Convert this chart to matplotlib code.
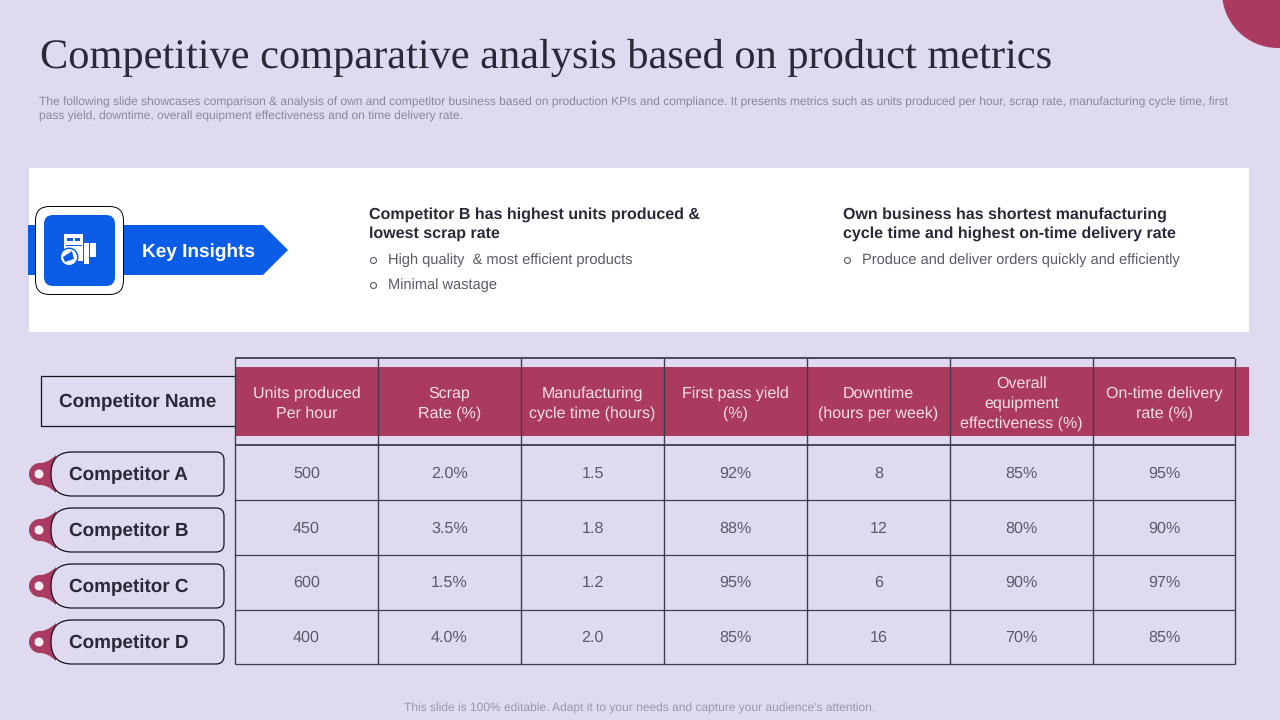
import matplotlib
matplotlib.use("Agg")
import matplotlib.pyplot as plt
from matplotlib.patches import Rectangle, FancyBboxPatch, Polygon, Circle, PathPatch
from matplotlib.path import Path

BG = "#dfdaf0"
RED = "#ab3a61"
BLUE = "#0b5ce6"
DARK = "#2b2838"
GREY = "#8a8798"
CELL = "#5d5a68"
LINE = "#3f3c4c"

headers = ["Units produced\nPer hour", "Scrap\nRate (%)", "Manufacturing\ncycle time (hours)",
           "First pass yield\n(%)", "Downtime\n(hours per week)",
           "Overall\nequipment\neffectiveness (%)", "On-time delivery\nrate (%)"]
competitors = ["Competitor A", "Competitor B", "Competitor C", "Competitor D"]
units = ["500", "450", "600", "400"]
scrap = ["2.0%", "3.5%", "1.5%", "4.0%"]
cycle = ["1.5", "1.8", "1.2", "2.0"]
first_pass = ["92%", "88%", "95%", "85%"]
downtime = ["8", "12", "6", "16"]
oee = ["85%", "80%", "90%", "70%"]
on_time = ["95%", "90%", "97%", "85%"]
columns = [units, scrap, cycle, first_pass, downtime, oee, on_time]

title = "Competitive comparative analysis based on product metrics"
intro = ["The following slide showcases comparison & analysis of own and competitor business based on production KPIs and compliance. It presents metrics such as units produced per hour, scrap rate, manufacturing cycle time, first",
         "pass yield, downtime, overall equipment effectiveness and on time delivery rate."]
footer = "This slide is 100% editable. Adapt it to your needs and capture your audience's attention."

col_x = [234.5, 377.5, 520.5, 663.5, 806.5, 949.5, 1092.5, 1234.5]
row_mid = [474, 529, 583, 638]
tag_top = [452, 508, 564, 620]

plt.rcParams["font.family"] = ["Liberation Sans", "DejaVu Sans"]
plt.rcParams["text.hinting"] = "no_hinting"
plt.rcParams["text.hinting_factor"] = 8
fig = plt.figure(figsize=(12.8, 7.2), dpi=100, facecolor=BG)
ax = fig.add_axes([0, 0, 1, 1])
ax.set_xlim(0, 1280)
ax.set_ylim(720, 0)
ax.axis("off")

# corner circle
ax.add_patch(Circle((1278, -8), 56, color=RED, lw=0))

ax.text(40, 58, title, family="Liberation Serif", fontsize=30.5, color=DARK, va="center")
ax.text(39, 102, intro[0], fontsize=8.65, color=GREY, va="center")
ax.text(39, 116, intro[1], fontsize=8.65, color=GREY, va="center")
ax.text(640, 708, footer, fontsize=8.65, color="#9a97a8", va="center", ha="center")

# insights panel
ax.add_patch(Rectangle((29, 168), 1220, 164, color="white", lw=0))
ax.add_patch(Polygon([(28, 225), (263, 225), (288, 250), (263, 275), (28, 275)], color=BLUE, lw=0))
ax.add_patch(FancyBboxPatch((35.5, 206.5), 88, 88, boxstyle="round,pad=0,rounding_size=14", fc="white", ec="black", lw=0.7))
ax.add_patch(FancyBboxPatch((44, 215), 71, 71, boxstyle="round,pad=0,rounding_size=9", fc=BLUE, ec="none"))

# icon
ax.add_patch(Rectangle((64, 234), 19, 27, color="white", lw=0))
ax.add_patch(Rectangle((84, 243), 5, 21, color="white", lw=0))
ax.add_patch(Rectangle((90, 243), 6, 14, color="white", lw=0))
ax.add_patch(Rectangle((67, 238), 6, 3, color=BLUE, lw=0))
ax.add_patch(Rectangle((75, 238), 5, 3, color=BLUE, lw=0))
ax.add_patch(Rectangle((66, 245), 16, 1, color=BLUE, lw=0))
ax.add_patch(Circle((69, 257), 9.5, fc=BLUE, ec="none"))
ax.add_patch(Circle((69, 257), 8, fc="white", ec="none"))
ax.add_patch(Polygon([(63, 257), (72, 251), (74, 259), (65, 262)], color=BLUE, lw=0))

ax.text(198, 252, "Key Insights", fontsize=13.65, fontweight="bold", color="white", ha="center", va="center")

ax.text(369, 215, "Competitor B has highest units produced &", fontsize=11.5, fontweight="bold", color=DARK, va="center")
ax.text(369, 234, "lowest scrap rate", fontsize=11.5, fontweight="bold", color=DARK, va="center")
ax.text(843, 215, "Own business has shortest manufacturing", fontsize=11.5, fontweight="bold", color=DARK, va="center")
ax.text(843, 234, "cycle time and highest on-time delivery rate", fontsize=11.5, fontweight="bold", color=DARK, va="center")
for bx, by, txt in [(388, 260, "High quality  & most efficient products"),
                    (388, 285, "Minimal wastage"),
                    (862, 260, "Produce and deliver orders quickly and efficiently")]:
    ax.add_patch(Circle((bx - 14.5, by + 0.5), 3, fc="none", ec=CELL, lw=0.8))
    ax.text(bx, by, txt, fontsize=10.5, color=CELL, va="center")

# table header band
ax.add_patch(Rectangle((236, 367), 1013, 69, color=RED, lw=0))
for i, h in enumerate(headers):
    ax.text((col_x[i] + col_x[i + 1]) / 2 + 0.5, 403.5, h, fontsize=11.5, color="#f7dfe8", ha="center", va="center", linespacing=1.42)

# grid
for x in col_x:
    ax.plot([x, x], [358, 664], color=LINE, lw=1, solid_capstyle="butt", zorder=3)
for y, lw in [(358, 1.3), (445, 1.3), (499.5, 0.9), (554.5, 0.9), (609.5, 0.9), (663.5, 0.9)]:
    ax.plot([234.5, 1234.5], [y, y], color=LINE, lw=lw, solid_capstyle="butt", zorder=3)

# table values
for i, col in enumerate(columns):
    for j, val in enumerate(col):
        ax.text((col_x[i] + col_x[i + 1]) / 2 + 0.5, row_mid[j], val, fontsize=11.6, color=CELL, ha="center", va="center")

# competitor name box
ax.plot([235, 41, 41, 235], [376, 376, 426, 426], color="#14121c", lw=0.9)
ax.text(138, 402.5, "Competitor Name", fontsize=13.6, fontweight="bold", color=DARK, ha="center", va="center")

# competitor tags
for name, t in zip(competitors, tag_top):
    b = t + 44
    mid = t + 22
    # red tab behind the label
    ax.add_patch(Circle((40, mid), 11, fc=RED, ec="none", zorder=2))
    tab = Path([(38, mid - 11), (47, mid - 10), (56, t + 3), (56, b - 3), (47, mid + 10), (38, mid + 11), (38, mid - 11)],
               [Path.MOVETO, Path.CURVE3, Path.CURVE3, Path.LINETO, Path.CURVE3, Path.CURVE3, Path.CLOSEPOLY])
    ax.add_patch(PathPatch(tab, fc=RED, ec="none", zorder=2))
    ax.add_patch(Circle((39, mid), 4.5, fc="#f7eef3", ec="none", zorder=3))
    label = Path([(72, t), (216, t), (224, t), (224, t + 8), (224, b - 8), (224, b), (216, b), (72, b),
                  (51, b), (51, mid), (51, t), (72, t)],
                 [Path.MOVETO, Path.LINETO, Path.CURVE3, Path.CURVE3, Path.LINETO, Path.CURVE3, Path.CURVE3, Path.LINETO,
                  Path.CURVE3, Path.CURVE3, Path.CURVE3, Path.CURVE3])
    ax.add_patch(PathPatch(label, fc=BG, ec="#14121c", lw=0.9, zorder=3))
    ax.text(69, mid + 1, name, fontsize=13.6, fontweight="bold", color=DARK, va="center", zorder=4)

fig.savefig("out.png", dpi=100, facecolor=BG)
